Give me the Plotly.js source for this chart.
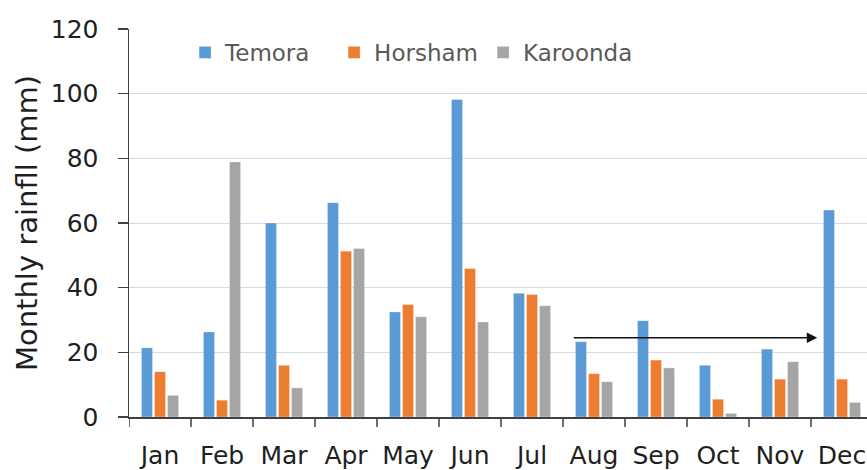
<!DOCTYPE html>
<html>
<head>
<meta charset="utf-8">
<script src="https://cdn.plot.ly/plotly-3.0.1.min.js"></script>
<style>html,body{margin:0;padding:0;background:#fff;}#chart{width:867px;height:470px;}</style>
</head>
<body>
<div id="chart"></div>
<script>
const months = ["Jan","Feb","Mar","Apr","May","Jun","Jul","Aug","Sep","Oct","Nov","Dec"];
const temora   = [21.4, 26.3, 60.0, 66.3, 32.5, 98.2, 38.3, 23.3, 29.8, 16.0, 21.0, 64.0];
const horsham  = [14.0,  5.2, 16.0, 51.3, 34.8, 45.9, 37.9, 13.4, 17.6,  5.5, 11.7, 11.7];
const karoonda = [ 6.7, 78.9,  9.0, 52.1, 31.0, 29.4, 34.4, 10.9, 15.2,  1.1, 17.1,  4.5];
const seriesNames = ["Temora","Horsham","Karoonda"];
const arrowFrom = {month: 6.65, value: 24.5};
const arrowTo   = {month: 10.6, value: 24.5};

const font = "'DejaVu Sans', 'Open Sans', sans-serif";
const colors = ["#5B9BD5","#ED7D31","#A5A5A5"];
const data = [temora, horsham, karoonda].map((vals, i) => ({
  type: "bar",
  name: seriesNames[i],
  x: months.map((m, j) => j),
  y: vals,
  marker: {color: colors[i], line: {color: "rgba(255,255,255,0.6)", width: 0.5}},
  hoverinfo: "skip"
}));

const layout = {
  width: 867, height: 470,
  margin: {l: 129, r: 0, t: 29, b: 52.5},
  paper_bgcolor: "#fff", plot_bgcolor: "#fff",
  barmode: "group", bargap: 0.37, bargroupgap: 0.15,
  font: {family: font, color: "#1f1f1f"},
  showlegend: true,
  legend: {orientation: "h", x: 0.076, y: 0.995, xanchor: "left", yanchor: "top",
           font: {size: 23, color: "#595959", family: font}, bgcolor: "rgba(0,0,0,0)",
           itemwidth: 30, entrywidth: 104, traceorder: "normal"},
  xaxis: {
    type: "linear", range: [-0.5, 11.403],
    tickmode: "array", tickvals: months.map((m, j) => j), ticktext: months,
    showgrid: false, zeroline: false,
    showline: true, linecolor: "#404040", linewidth: 1.5,
    ticks: "", tickfont: {size: 25, color: "#1f1f1f", family: font},
    ticklabelstandoff: 15
  },
  yaxis: {
    range: [0, 120], tickvals: [0,20,40,60,80,100,120],
    showgrid: true, gridcolor: "#d9d9d9", gridwidth: 1,
    zeroline: false, showline: true, linecolor: "#404040", linewidth: 1.5,
    ticks: "outside", ticklen: 10, tickcolor: "#404040", tickwidth: 1.5,
    tickfont: {size: 25, color: "#1f1f1f", family: font},
    ticklabelstandoff: 14,
    title: {text: "Monthly rainfll (mm)", font: {size: 29, color: "#1f1f1f", family: font}, standoff: 4}
  },
  shapes: [],
  annotations: [{
    x: arrowTo.month, y: arrowTo.value, ax: arrowFrom.month, ay: arrowFrom.value,
    xref: "x", yref: "y", axref: "x", ayref: "y",
    showarrow: true, arrowhead: 2, arrowsize: 1.3, arrowwidth: 1.6, arrowcolor: "#111", text: ""
  }]
};
// category boundary ticks on x axis
for (let k = 0; k <= 12; k++) {
  layout.shapes.push({type: "line", xref: "x", yref: "paper", x0: k - 0.5, x1: k - 0.5, y0: 0, y1: -0.026,
    line: {color: "#404040", width: 1.5}});
}
Plotly.newPlot("chart", data, layout, {displayModeBar: false, staticPlot: true});
</script>
</body>
</html>
